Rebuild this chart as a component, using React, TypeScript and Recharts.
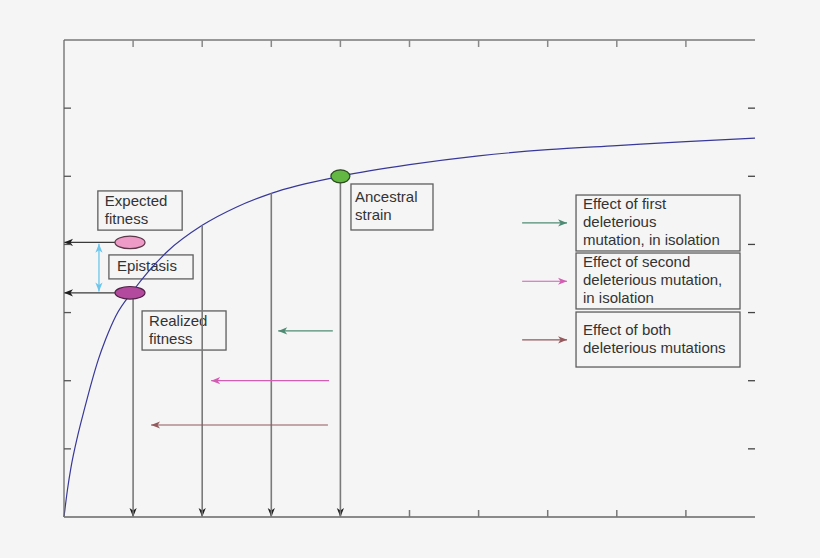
import React from 'react';
import { LineChart, Line, XAxis, YAxis, ReferenceLine, ReferenceDot, ReferenceArea } from 'recharts';

// fitness curve (x in tick units 0..10, y in tick units 0..7)
const curveX = [0, 0.05, 0.1, 0.2, 0.3, 0.4, 0.5, 0.6, 0.75, 1, 1.5, 2, 2.5, 3, 4, 5, 6, 7, 8, 9, 10];
const curveY = [0, 0.4, 0.72, 1.2, 1.6, 1.98, 2.32, 2.6, 2.95, 3.32, 3.9, 4.28, 4.55, 4.75, 5.0, 5.17, 5.3, 5.39, 5.45, 5.51, 5.56];

// inner tick marks only, no labels in the figure
const xTicks = [1, 2, 3, 4, 5, 6, 7, 8, 9];
const yTicks = [1, 2, 3, 4, 5, 6];

// genotypes: x position on the curve and their fitness
const dropX = [1, 2, 3, 4];
const dropY = [3.3, 4.28, 4.75, 5.0];

const expectedFitness = 4.03;
const realizedFitness = 3.29;

const data = curveX.map((x, i) => ({ x, y: curveY[i] }));

const FONT = '"Liberation Sans", Arial, Helvetica, sans-serif';
const GREEN = '#4f8b74';
const PINK = '#d25db3';
const BROWN = '#93595d';

function Arrow(props: any) {
  const { x1, y1, x2, y2, color, head, width, both } = props;
  const dx = x2 - x1;
  const dy = y2 - y1;
  const len = Math.hypot(dx, dy) || 1;
  const ux = dx / len;
  const uy = dy / len;
  const px = -uy;
  const py = ux;
  const L = 9;
  const W = 3.6;
  const N = 6.5;
  const headAt = (tx: number, ty: number, ax: number, ay: number) =>
    `M${tx},${ty} L${tx - ax * L + px * W},${ty - ay * L + py * W} L${tx - ax * N},${ty - ay * N} L${tx - ax * L - px * W},${ty - ay * L - py * W} Z`;
  return (
    <g>
      <line x1={x1} y1={y1} x2={x2} y2={y2} stroke={color} strokeWidth={width} />
      <path d={headAt(x2, y2, ux, uy)} fill={head} />
      {both && <path d={headAt(x1, y1, -ux, -uy)} fill={head} />}
    </g>
  );
}

const arrows = [
  // drop lines to the x axis
  ...dropX.map((x, i) => ({ from: [x, dropY[i]], to: [x, 0], color: '#7a7a7a', head: '#1e1e1e', width: 1.6 })),
  // fitness read-outs to the y axis
  { from: [0.96, expectedFitness], to: [0, expectedFitness], color: '#3a3a3a', head: '#1e1e1e', width: 1.3 },
  { from: [0.96, realizedFitness], to: [0, realizedFitness], color: '#3a3a3a', head: '#1e1e1e', width: 1.3 },
  // mutation effects
  { from: [3.89, 2.73], to: [3.1, 2.73], color: GREEN, head: GREEN, width: 1.2 },
  { from: [3.835, 2.0], to: [2.13, 2.0], color: PINK, head: PINK, width: 1.2 },
  { from: [3.82, 1.35], to: [1.26, 1.35], color: BROWN, head: BROWN, width: 1.2 },
  // legend keys
  { from: [6.63, 4.315], to: [7.28, 4.315], color: GREEN, head: GREEN, width: 1.2 },
  { from: [6.63, 3.46], to: [7.28, 3.46], color: PINK, head: PINK, width: 1.2 },
  { from: [6.63, 2.6], to: [7.28, 2.6], color: BROWN, head: BROWN, width: 1.2 },
  // epistasis gap
  { from: [0.506, 4.01], to: [0.506, 3.31], color: '#6cc6ec', head: '#6cc6ec', width: 1.3, both: true },
];

const boxes = [
  { x1: 0.49, x2: 1.71, y1: 4.21, y2: 4.785, pad: 7, lines: ['Expected', 'fitness'] },
  { x1: 0.65, x2: 1.868, y1: 3.494, y2: 3.846, pad: 8, lines: ['Epistasis'] },
  { x1: 1.13, x2: 2.345, y1: 2.45, y2: 3.024, pad: 7, lines: ['Realized', 'fitness'] },
  { x1: 4.153, x2: 5.34, y1: 4.212, y2: 4.887, pad: 4, lines: ['Ancestral', 'strain'] },
  { x1: 7.41, x2: 9.783, y1: 3.904, y2: 4.725, pad: 7, lines: ['Effect of first', 'deleterious', 'mutation, in isolation'] },
  { x1: 7.41, x2: 9.783, y1: 3.053, y2: 3.874, pad: 7, lines: ['Effect of second', 'deleterious mutation,', 'in isolation'] },
  { x1: 7.41, x2: 9.783, y1: 2.201, y2: 3.008, pad: 7, lines: ['Effect of both', 'deleterious mutations'] },
];

const ellipses = [
  { x: 0.955, y: expectedFitness, rx: 15, ry: 6.3, fill: '#ef9bc7', stroke: '#5a3848' },
  { x: 0.955, y: realizedFitness, rx: 15, ry: 6.3, fill: '#b44a9e', stroke: '#4e2246' },
  { x: 4.0, y: 5.0, rx: 9.5, ry: 6.5, fill: '#62b843', stroke: '#2d4a22' },
];

function TextBox(props: any) {
  const { x, y, width, height, lines, pad } = props;
  const lh = 18;
  const first = y + (height - lines.length * lh) / 2 + 13.5;
  return (
    <g>
      <rect x={x} y={y} width={width} height={height} fill="#f5f5f5" stroke="#5e5e5e" strokeWidth={1.3} />
      {lines.map((t: string, i: number) => (
        <text key={i} x={x + pad} y={first + i * lh} fontSize={15} fontFamily={FONT} fill="#333">
          {t}
        </text>
      ))}
    </g>
  );
}

export default function App() {
  return (
    <div style={{ position: 'absolute', left: 0, top: 0, width: 820, height: 558, background: '#f5f5f5' }}>
      <LineChart width={820} height={558} data={data} margin={{ top: 40, right: 65, bottom: 41, left: 64 }}>
        <XAxis
          xAxisId={0}
          dataKey="x"
          type="number"
          domain={[0, 10]}
          ticks={xTicks}
          mirror
          tickSize={7}
          tickFormatter={() => ''}
          axisLine={{ stroke: '#8a8a8a', strokeWidth: 2 }}
          tickLine={{ stroke: '#777', strokeWidth: 1.5 }}
        />
        <XAxis
          xAxisId="top"
          orientation="top"
          dataKey="x"
          type="number"
          domain={[0, 10]}
          allowDataOverflow
          ticks={xTicks}
          mirror
          tickSize={7}
          tickFormatter={() => ''}
          axisLine={{ stroke: '#3a3a3a', strokeWidth: 1.2 }}
          tickLine={{ stroke: '#888', strokeWidth: 1.5 }}
        />
        <YAxis
          yAxisId={0}
          type="number"
          domain={[0, 7]}
          ticks={yTicks}
          mirror
          tickSize={7}
          tickFormatter={() => ''}
          axisLine={{ stroke: '#6a6a6a', strokeWidth: 1.3 }}
          tickLine={{ stroke: '#555', strokeWidth: 1.3 }}
        />
        <YAxis
          yAxisId="right"
          orientation="right"
          dataKey="y"
          type="number"
          domain={[0, 7]}
          allowDataOverflow
          ticks={yTicks}
          mirror
          tickSize={7}
          tickFormatter={() => ''}
          axisLine={false}
          tickLine={{ stroke: '#444', strokeWidth: 1.3 }}
        />
        {boxes.map((b, i) => (
          <ReferenceArea
            key={`box-${i}`}
            x1={b.x1}
            x2={b.x2}
            y1={b.y1}
            y2={b.y2}
            ifOverflow="visible"
            shape={(p: any) => <TextBox {...p} lines={b.lines} pad={b.pad} />}
          />
        ))}
        <Line
          dataKey="y"
          type="monotone"
          stroke="#38389a"
          strokeWidth={1.2}
          dot={false}
          activeDot={false}
          isAnimationActive={false}
        />
        {arrows.map((a, i) => (
          <ReferenceLine
            key={`arrow-${i}`}
            segment={[
              { x: a.from[0], y: a.from[1] },
              { x: a.to[0], y: a.to[1] },
            ]}
            ifOverflow="visible"
            shape={(p: any) => (
              <Arrow x1={p.x1} y1={p.y1} x2={p.x2} y2={p.y2} color={a.color} head={a.head} width={a.width} both={(a as any).both} />
            )}
          />
        ))}
        {ellipses.map((e, i) => (
          <ReferenceDot
            key={`dot-${i}`}
            x={e.x}
            y={e.y}
            r={e.rx}
            ifOverflow="visible"
            shape={(p: any) => (
              <ellipse cx={p.cx} cy={p.cy} rx={e.rx} ry={e.ry} fill={e.fill} stroke={e.stroke} strokeWidth={1.2} />
            )}
          />
        ))}
      </LineChart>
    </div>
  );
}
